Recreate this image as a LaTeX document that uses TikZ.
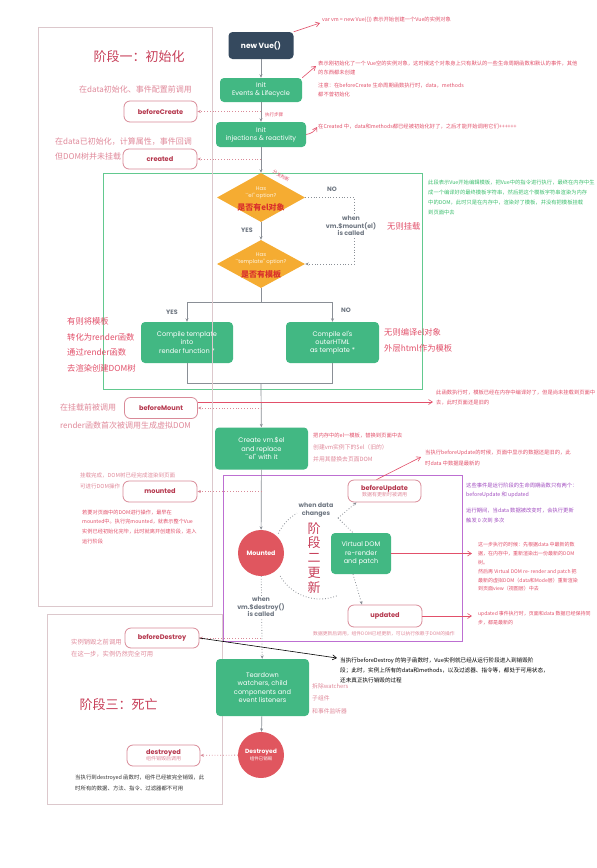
\documentclass[tikz,border=0pt]{standalone}
\usepackage{fontspec}
\setmainfont{Poppins}
\newfontfamily\cjk{Noto Sans CJK SC}
\newfontfamily\pop{Poppins}
\usetikzlibrary{arrows.meta,shapes.geometric}
\definecolor{vgreen}{HTML}{42B883}
\definecolor{vnavy}{HTML}{35495E}
\definecolor{vorange}{HTML}{F5AC32}
\definecolor{vred}{HTML}{E0565F}
\definecolor{hookred}{HTML}{B5374D}
\definecolor{hookborder}{HTML}{D98A98}
\definecolor{annred}{HTML}{E2506A}
\definecolor{softred}{HTML}{E0899A}
\definecolor{titlered}{HTML}{C8405A}
\definecolor{framegray}{HTML}{DCC8CC}
\definecolor{greenframe}{HTML}{62C98F}
\definecolor{purpleframe}{HTML}{BD6FD2}
\definecolor{labgray}{HTML}{6E7681}
\definecolor{flowgray}{HTML}{8A8F96}
\definecolor{anngreen}{HTML}{3DBF6E}
\definecolor{annpurple}{HTML}{A14DC0}
\definecolor{diamred}{HTML}{D9302C}
\definecolor{darktext}{HTML}{333333}
\tikzset{
 gbox/.style={fill=vgreen, rounded corners=4pt, text=white, font=\pop\fontsize{6.6}{8.2}\selectfont, align=center, inner sep=0pt},
 hook/.style={draw=hookborder, line width=0.8pt, fill=white, rounded corners=6pt, text=hookred, font=\pop\bfseries\fontsize{6.6}{7}\selectfont, align=center, inner sep=0pt},
 flow/.style={draw=flowgray, line width=0.7pt, -{Stealth[length=3.5pt,width=3pt]}},
 flowline/.style={draw=flowgray, line width=0.7pt},
 loopline/.style={draw=flowgray, line width=0.8pt, dotted},
 hookarrow/.style={draw=hookborder, line width=0.8pt, dotted, -{Stealth[length=3.5pt,width=3pt]}},
 ann/.style={text=annred, font=\cjk\fontsize{5.3}{9}\selectfont, align=left, inner sep=0pt, anchor=north west},
 annline/.style={draw=annred, line width=0.6pt, -{Straight Barb[length=4pt,width=5pt]}},
 lab/.style={text=labgray, font=\pop\bfseries\fontsize{6.3}{7.6}\selectfont, align=center, inner sep=1pt},
 bigred/.style={text=annred, font=\cjk\fontsize{8.3}{15.6}\selectfont, align=left, inner sep=0pt, anchor=north west},
 softbig/.style={text=softred, font=\cjk\fontsize{8}{15}\selectfont, align=left, inner sep=0pt, anchor=north west},
 phasetitle/.style={text=titlered, font=\cjk\fontsize{13}{15}\selectfont, inner sep=0pt},
}
\begin{document}
\begin{tikzpicture}[x=1pt,y=-1pt]
\useasboundingbox (0,0) rectangle (597,868);
\fill[white] (0,0) rectangle (597,868);

% frames (behind)
\draw[framegray, line width=0.7pt] (47,614) rectangle (222,804);
\draw[greenframe, line width=0.8pt] (103,173) rectangle (422,389);
\draw[purpleframe, line width=0.8pt] (223,475) rectangle (462,641);

% main flow nodes
\node[fill=vnavy, rounded corners=4pt, text=white, font=\pop\bfseries\fontsize{7.5}{8}\selectfont, minimum width=65pt, minimum height=27pt, inner sep=0pt] (newvue) at (261,45.5) {new Vue()};
\node[gbox, minimum width=82pt, minimum height=24pt] (initev) at (261,90) {Init\\Events \& Lifecycle};
\node[gbox, minimum width=90pt, minimum height=25pt] (initinj) at (261,134.5) {Init\\injections \& reactivity};
\node[hook, minimum width=73pt, minimum height=21pt] (bc) at (160.5,111.5) {beforeCreate};
\node[hook, minimum width=74pt, minimum height=20pt] (cr) at (160,159) {created};

\node[diamond, fill=vorange, minimum width=88pt, minimum height=49pt, inner sep=0pt] (d1) at (261,197.5) {};
\node[diamond, fill=vorange, minimum width=88pt, minimum height=48pt, inner sep=0pt] (d2) at (261,264) {};
\node[font=\pop\fontsize{5.4}{7}\selectfont, text=white!85!vorange, align=center, inner sep=0pt] (d1t) at (261,193) {Has\\``el'' option?};
\node[font=\cjk\bfseries\fontsize{8}{9}\selectfont, text=diamred, inner sep=0pt] (d1c) at (261,207) {是否有el对象};
\node[font=\pop\fontsize{5.4}{7}\selectfont, text=white!85!vorange, align=center, inner sep=0pt] (d2t) at (261,259) {Has\\``template'' option?};
\node[font=\cjk\bfseries\fontsize{8}{9}\selectfont, text=diamred, inner sep=0pt] (d2c) at (261,274) {是否有模板};

\node[gbox, minimum width=92pt, minimum height=41pt] (ct) at (187,342.5) {Compile template\\into\\render function *};
\node[gbox, minimum width=93pt, minimum height=41pt] (ce) at (332.5,342.5) {Compile el's\\outerHTML\\as template *};
\node[hook, minimum width=73pt, minimum height=21pt] (bm) at (161,408) {beforeMount};
\node[gbox, minimum width=93pt, minimum height=42pt] (create) at (261.5,448.5) {Create vm.\$el\\and replace\\``el'' with it};
\node[hook, minimum width=74pt, minimum height=21pt] (mh) at (160,491.5) {mounted};
\node[circle, fill=vred, minimum size=46pt, inner sep=0pt, text=white, font=\pop\bfseries\fontsize{6.3}{7}\selectfont] (mc) at (261,553) {Mounted};
\node[hook, minimum width=73pt, minimum height=22pt, font=\pop\bfseries\fontsize{6.6}{6.6}\selectfont] (bu) at (384.5,491) {beforeUpdate\\[-0.5pt]{\cjk\mdseries\color{softred}\fontsize{5}{5}\selectfont 数据有更新时被调用}};
\node[gbox, minimum width=60pt, minimum height=41pt] (vd) at (361,553.5) {Virtual DOM\\re-render\\and patch};
\node[hook, minimum width=74pt, minimum height=22pt] (up) at (385,616) {updated};
\node[hook, minimum width=74pt, minimum height=20pt] (bd) at (162,638) {beforeDestroy};
\node[gbox, minimum width=93pt, minimum height=57pt] (td) at (262.5,687.5) {Teardown\\watchers, child\\components and\\event listeners};
\node[circle, fill=vred, minimum size=46pt, inner sep=0pt, text=white, align=center, font=\pop\bfseries\fontsize{6}{7}\selectfont] (dc) at (261,755) {Destroyed\\{\cjk\mdseries\fontsize{4.5}{5}\selectfont 组件已销毁}};
\node[hook, minimum width=73pt, minimum height=21pt, font=\pop\bfseries\fontsize{6.6}{6.6}\selectfont] (dh) at (163.5,755.5) {destroyed\\[-0.5pt]{\cjk\mdseries\color{softred}\fontsize{5}{5}\selectfont 组件销毁后调用}};

% main flow
\coordinate (jt) at (261,302);
\coordinate (jb) at (261,383);
\draw[flow] (newvue) -- (initev);
\draw[flow] (initev) -- (initinj);
\draw[flow] (initinj) -- (d1.north);
\draw[flow] (d1.south) -- (d2.north);
\draw[flowline] (d2.south) -- (jt);
\draw[flow] (jt) -| (ct.north);
\draw[flow] (jt) -| (ce.north);
\draw[flowline] (ct.south) |- (jb);
\draw[flowline] (ce.south) |- (jb);
\draw[flow] (jb) -- (create);
\draw[flow] (create) -- (mc);
\draw[flow, dotted, line width=0.8pt] (mc) -- (td);
\draw[flow] (td) -- (dc);

% NO branch
\coordinate (nob1) at (354,197.5);
\coordinate (nob2) at (354,264);
\draw[flowgray, dotted, line width=0.8pt, -{Stealth[length=3.5pt,width=3pt]}] (d1.east) -- (nob1) -- (nob2) -- (d2.east);

% hook arrows
\draw[hookarrow] (initev |- bc) -- (bc);
\draw[hookarrow] (initinj |- cr) -- (cr);
\draw[hookarrow] (create |- bm) -- (bm);
\draw[hookarrow] (create |- mh) -- (mh);
\draw[hookarrow] (mc |- bd) -- (bd);
\draw[hookarrow] (dc) -- (dh);

% update loop
\draw[loopline] plot[domain=205:240, samples=12] ({320+46*cos(\x)}, {553+46*sin(\x)});
\draw[loopline] plot[domain=150:68, samples=20] ({320+46*cos(\x)}, {553+46*sin(\x)});
\coordinate (lp) at (338,518);
\draw[loopline, -{Stealth[length=3.5pt,width=3pt]}] (lp) -- ([xshift=-28pt]bu.south);
\draw[loopline] (lp) -- ([xshift=-8pt]vd.north);
\draw[loopline, -{Stealth[length=3.5pt,width=3pt]}] ([xshift=-8pt]vd.south) -- ([xshift=-23pt]up.north);

% gray labels
\node[lab] (l1) at (332,189) {NO};
\node[lab] (l2) at (247,230) {YES};
\node[lab] (l3) at (172,312) {YES};
\node[lab] (l4) at (346,310) {NO};
\node[lab, fill=white] (l5) at (351,226) {when\\vm.\$mount(el)\\is called};
\node[lab, fill=white] (l6) at (316,510) {when data\\changes};
\node[lab, fill=white] (l7) at (261,607) {when\\vm.\$destroy()\\is called};

% phase titles
\node[phasetitle] (p1t) at (139,57) {阶段一：初始化};
\node[phasetitle] (p3t) at (118.5,705) {阶段三：死亡};
\node[phasetitle, align=center, font=\cjk\fontsize{13}{14.75}\selectfont] (p2t) at (314,557.5) {阶\\段\\二\\更\\新};

% left annotations
\node[softbig] (a19) at (79,86) {在data初始化、事件配置前调用};
\node[softbig] (a20) at (55,138) {在data已初始化，计算属性，事件回调\\但DOM树并未挂载};
\node[bigred] (a21) at (67,317.5) {有则将模板\\转化为render函数\\通过render函数\\去渲染创建DOM树};
\node[bigred] (a22) at (384,328.5) {无则编译el对象\\外层html作为模板};
\node[bigred] (a25) at (387,222.5) {无则挂载};
\node[softbig, font=\cjk\fontsize{8}{17.5}\selectfont] (a23) at (60,404) {在挂载前被调用\\render函数首次被调用生成虚拟DOM};
\node[ann, text=softred, font=\cjk\fontsize{5.5}{11}\selectfont] (a17) at (80,472.5) {挂载完成，DOM树已经完成渲染到页面\\可进行DOM操作};
\node[ann, font=\cjk\fontsize{5.2}{9.7}\selectfont] (a18) at (82,509.5) {若要对页面中的DOM进行操作，最早在\\mounted中。执行完mounted，就表示整个Vue\\实例已经初始化完毕，此时就离开创建阶段，进入\\运行阶段};
\node[ann, text=softred, font=\cjk\fontsize{6.3}{12.5}\selectfont] (a24) at (71,638.5) {实例销毁之前调用\\在这一步，实例仍然完全可用};
\node[ann, text=darktext, font=\cjk\fontsize{5.4}{11}\selectfont] (a16) at (75,774.5) {当执行到destroyed 函数时，组件已经被完全销毁，此\\时所有的数据、方法、指令、过滤器都不可用};

% right annotations
\node[ann] (a1) at (322,16.5) {var vm = new Vue(\{\}) 表示开始创建一个Vue的实例对象};
\node[ann] (a2) at (318,60.5) {表示刚初始化了一个 Vue空的实例对象，这时候这个对象身上只有默认的一些生命周期函数和默认的事件，其他\\的东西都未创建};
\node[ann] (a3) at (318,82.5) {注意：在beforeCreate 生命周期函数执行时，data，methods\\都不曾初始化};
\node[ann] (a4) at (318,123.5) {在Created 中，data和methods都已经被初始化好了，之后才能开始调用它们++++++};
\node[ann, text=anngreen, font=\cjk\fontsize{5.3}{10}\selectfont] (a5) at (428,179.5) {此段表示Vue开始编辑模板，把Vue中的指令进行执行，最终在内存中生\\成一个编译好的最终模板字符串，然后把这个模板字符串渲染为内存\\中的DOM，此时只是在内存中，渲染好了模板，并没有把模板挂载\\到页面中去};
\node[ann, font=\cjk\fontsize{5.3}{10}\selectfont] (a6) at (436,389.5) {此函数执行时，模板已经在内存中编译好了，但是尚未挂载到页面中\\去，此时页面还是旧的};
\node[ann] (a7) at (313,432.5) {把内存中的el一模板，替换到页面中去};
\node[ann, text=softred, font=\cjk\fontsize{5.8}{12}\selectfont] (a7b) at (313,444) {创建vm实例下的\$el（旧的）\\并用其替换去页面DOM};
\node[ann, font=\cjk\fontsize{5.3}{11}\selectfont] (a8) at (425,449.5) {当执行beforeUpdate的时候，页面中显示的数据还是旧的，此\\时data 中数据是最新的};
\node[ann, text=annpurple] (a9) at (466,482.5) {这些事件是运行阶段的生命周期函数只有两个：\\beforeUpdate 和 updated};
\node[ann, text=annpurple, font=\cjk\fontsize{5.3}{10}\selectfont] (a10) at (466,507.5) {运行期间，当data 数据被改变时，会执行更新\\触发 0 次到 多次};
\node[ann, font=\cjk\fontsize{5}{8.8}\selectfont] (a11) at (478,542.5) {这一步执行的时候：先根据data 中最新的数\\据，在内存中，重新渲染出一份最新的DOM\\树。\\然后再 Virtual DOM re- render and patch 把\\最新的虚拟DOM（data和Mode层）重新渲染\\到页面view（视图层）中去};
\node[ann, font=\cjk\fontsize{5}{9}\selectfont] (a12) at (478,611.5) {updated 事件执行时，页面和data 数据已经保持同\\步，都是最新的};
\node[ann, text=softred, font=\cjk\fontsize{4.8}{6}\selectfont] (a13) at (313,631) {数据更新后调用，组件DOM已经更新，可以执行依赖于DOM的操作};
\node[ann, text=black, font=\cjk\fontsize{5.6}{10}\selectfont] (a14) at (340,657.5) {当执行beforeDestroy 的钩子函数时，Vue实例就已经从运行阶段进入到销毁阶\\段；此时，实例上所有的data和methods，以及过滤器、指令等，都处于可用状态，\\还未真正执行销毁的过程};
\node[ann, text=softred, font=\cjk\fontsize{5.8}{12.5}\selectfont] (a15) at (312,683) {拆除watchers\\子组件\\和事件监听器};
\node[text=annred, font=\cjk\fontsize{4.5}{5}\selectfont, inner sep=0pt] (a26) at (274,115) {执行步骤};
\node[text=annred, font=\cjk\fontsize{4.5}{5}\selectfont, inner sep=0pt, rotate=-30] (a27) at (281,176) {分支判断};

% annotation arrows
\coordinate (e1) at (320,23);
\coordinate (e2) at (316,66);
\coordinate (e3) at (317,127);
\coordinate (e6) at (433,402);
\coordinate (e8) at (421,457);
\coordinate (e11) at (472,553.5);
\coordinate (e12) at (472,616);
\coordinate (e14) at (337,658);
\draw[annline] (newvue.north east) -- (e1);
\draw[annline] (initev.north east) -- (e2);
\draw[annline] (initinj.east) to[bend right=25] (e3);
\draw[annline] ([yshift=6pt]bm.east) -- (e6);
\draw[annline] ([xshift=-8pt]bu.north) -- (e8);
\draw[annline] (vd.east) -- (e11);
\draw[annline] (up.east) -- (e12);
\draw[draw=black, line width=0.6pt, -{Straight Barb[length=4pt,width=5pt]}] (bd.east) -- (e14);

% phase one frame (on top)
\draw[framegray, line width=0.7pt] (38,27) rectangle (212,606);
\end{tikzpicture}
\end{document}
